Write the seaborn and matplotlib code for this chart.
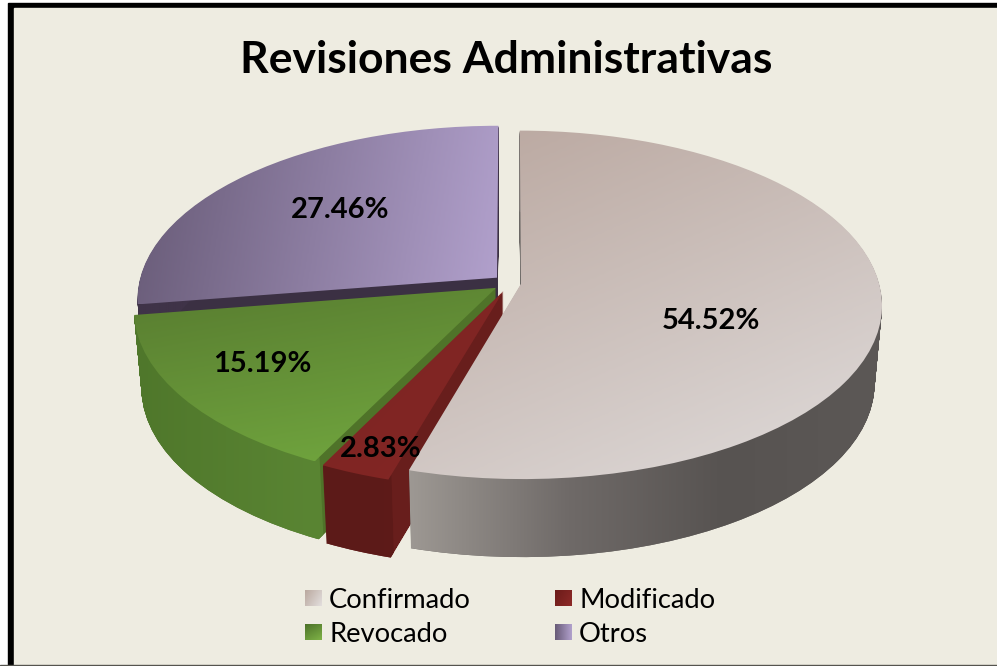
import numpy as np
import matplotlib
matplotlib.use("Agg")
import matplotlib.pyplot as plt
import seaborn as sns
from matplotlib.colors import LinearSegmentedColormap
from matplotlib.patches import PathPatch, Rectangle
from matplotlib.path import Path

title = "Revisiones Administrativas"
categories = ["Confirmado", "Modificado", "Revocado", "Otros"]
values = [54.52, 2.83, 15.19, 27.46]
explode = [0.031, 0.05, 0.048, 0.048]

top_colors = [["#b9a69e", "#e0dcdb"], ["#7c2422", "#842725"], ["#587c30", "#72a83f"], ["#675a76", "#b2a1cd"]]
top_angles = [60, 45, 70, 5]
rim_colors = [["#9d9893", "#6f6a68", "#575351", "#5c5856"], ["#5c1a18", "#5f1b19"],
              ["#4f772b", "#5a8533", "#4e7329"], ["#3f3348", "#3f3348"]]
cut_colors = ["#6b6865", "#681e1c", "#4f7329", "#3b3043"]
legend_colors = [["#b9a79d", "#e3dfde"], ["#6a1b19", "#8e2a28"], ["#4a6f28", "#7fb347"], ["#675a76", "#b2a1cd"]]
legend_angles = [30, 30, 60, 0]

# where the pie sits, in pixels
cx, cy = 510, 283
rx, ry, k = 358, 171.5, 0.121
depth = 78
shrink = 0.02


def project(path, drop=0.0):
    x, y = path.vertices[:, 0], path.vertices[:, 1]
    w = 1 + k * y
    scale = 1 - shrink * drop / depth
    pts = np.column_stack([cx + scale * rx * x / w, cy - ry * y / w + drop])
    return Path(pts, path.codes)


def gradient(ax, stops, angle, path, z):
    # fill a path with a linear gradient, the image is clipped to the path
    xs, ys = path.vertices[:, 0], path.vertices[:, 1]
    u, v = np.meshgrid(np.linspace(0, 1, 128), np.linspace(0, 1, 128))
    a = np.deg2rad(angle)
    t = u * np.cos(a) + v * np.sin(a)
    t = (t - t.min()) / (t.max() - t.min())
    cmap = LinearSegmentedColormap.from_list("g", stops)
    im = ax.imshow(cmap(t), extent=(xs.min(), xs.max(), ys.max(), ys.min()),
                   aspect="auto", interpolation="bilinear", zorder=z)
    im.set_clip_path(path, ax.transData)


sns.set_theme(style="white")
plt.rcParams["font.family"] = ["Lato", "DejaVu Sans"]

fig = plt.figure(figsize=(9.97, 6.66), dpi=100, facecolor="white")
ax = fig.add_axes([0, 0, 1, 1])

full, _ = ax.pie(values, explode=explode, startangle=90, counterclock=False)
rim, _ = ax.pie(values, explode=explode, startangle=90, counterclock=False,
                wedgeprops=dict(width=0.025))
for w in full + rim:
    w.set_visible(False)

ax.set_aspect("auto")
ax.set_frame_on(False)

ax.add_patch(Rectangle((8, 3), 995, 670, color="black", zorder=0))
ax.add_patch(Rectangle((14, 8), 990, 657, color="#eeece1", zorder=0.1))
ax.add_patch(Rectangle((0, 665), 997, 2, color="#55544e", zorder=0.2))

# back to front: Otros, Revocado, Modificado, Confirmado
z = 2
drops = np.arange(depth, 0, -1.0)
for i in [3, 2, 1, 0]:
    cut = Path.make_compound_path(*[project(full[i].get_path(), d) for d in drops])
    ax.add_patch(PathPatch(cut, facecolor=cut_colors[i], edgecolor="none", zorder=z))
    side = Path.make_compound_path(*[project(rim[i].get_path(), d) for d in drops])
    gradient(ax, rim_colors[i], 0, side, z + 1)
    gradient(ax, top_colors[i], top_angles[i], project(full[i].get_path()), z + 2)
    z += 3

label_pos = [(711, 321), (381, 449), (262, 364), (340, 210)]
for v, (x, y) in zip(values, label_pos):
    ax.text(x, y, f"{v:.2f}%", ha="center", va="center", fontsize=21,
            fontweight="bold", color="black", zorder=30)

ax.text(506, 60, title, ha="center", va="center", fontsize=32,
        fontweight="bold", color="black", zorder=30)

legend_pos = [(305, 598), (555, 598), (305, 632), (555, 632)]
for name, stops, ang, (x, y) in zip(categories, legend_colors, legend_angles, legend_pos):
    box = Path([(x, y - 8.5), (x + 17, y - 8.5), (x + 17, y + 8.5), (x, y + 8.5), (x, y - 8.5)])
    gradient(ax, stops, ang, box, 30)
    ax.text(x + 24, y + 2.5, name, ha="left", va="center", fontsize=19.7, color="black", zorder=30)

ax.set_xlim(0, 997)
ax.set_ylim(666, 0)
fig.savefig("out.png", dpi=100, facecolor=fig.get_facecolor())
